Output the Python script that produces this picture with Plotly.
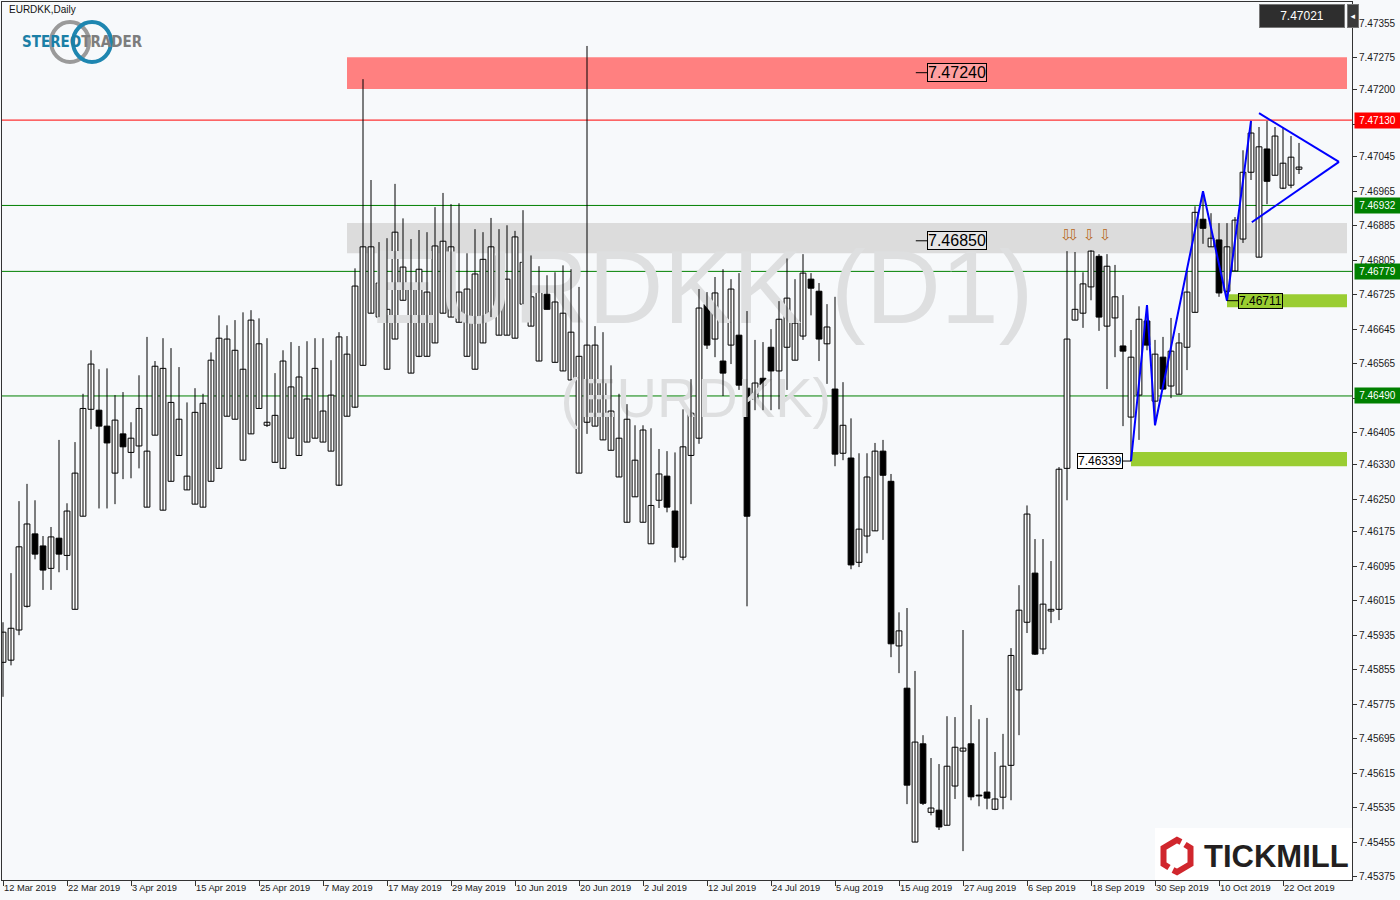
import plotly.graph_objects as go

# ---------------- DATA ----------------
tick_labels = ['12 Mar 2019', '22 Mar 2019', '3 Apr 2019', '15 Apr 2019', '25 Apr 2019',
               '7 May 2019', '17 May 2019', '29 May 2019', '10 Jun 2019', '20 Jun 2019',
               '2 Jul 2019', '12 Jul 2019', '24 Jul 2019', '5 Aug 2019', '15 Aug 2019',
               '27 Aug 2019', '6 Sep 2019', '18 Sep 2019', '30 Sep 2019', '10 Oct 2019',
               '22 Oct 2019']

y_ticks = [7.47355, 7.47275, 7.47200, 7.47120, 7.47045, 7.46965, 7.46885, 7.46805, 7.46725,
           7.46645, 7.46565, 7.46485, 7.46405, 7.46330, 7.46250, 7.46175, 7.46095, 7.46015,
           7.45935, 7.45855, 7.45775, 7.45695, 7.45615, 7.45535, 7.45455, 7.45375]

open_ = [7.45872, 7.45877, 7.45947, 7.46002, 7.46170, 7.46142, 7.46090, 7.46160, 7.46120, 7.45995,
         7.46211, 7.46459, 7.46457, 7.46420, 7.46311, 7.46402, 7.46359, 7.46374, 7.46232, 7.46399,
         7.46225, 7.46292, 7.46352, 7.46272, 7.46239, 7.46232, 7.46292, 7.46322, 7.46443, 7.46436,
         7.46341, 7.46402, 7.46461, 7.46422, 7.46336, 7.46322, 7.46392, 7.46352, 7.46383, 7.46392,
         7.46383, 7.46362, 7.46283, 7.46443, 7.46464, 7.46561, 7.46682, 7.46673, 7.46552, 7.46622,
         7.46712, 7.46543, 7.46582, 7.46582, 7.46613, 7.46682, 7.46673, 7.46661, 7.46582, 7.46552,
         7.46613, 7.46673, 7.46631, 7.46631, 7.46624, 7.46703, 7.46652, 7.46571, 7.46726, 7.46568,
         7.46548, 7.46527, 7.46311, 7.46429, 7.46420, 7.46388, 7.46364, 7.46302, 7.46197, 7.46256,
         7.46197, 7.46147, 7.46248, 7.46304, 7.46223, 7.46116, 7.46352, 7.46392, 7.46703, 7.46622,
         7.46571, 7.46608, 7.46631, 7.46508, 7.46483, 7.46531, 7.46603, 7.46548, 7.46603, 7.46573,
         7.46629, 7.46761, 7.46733, 7.46611, 7.46506, 7.46357, 7.46346, 7.46104, 7.46165, 7.46177,
         7.46362, 7.46292, 7.45910, 7.45812, 7.45455, 7.45683, 7.45524, 7.45529, 7.45494, 7.45585,
         7.45666, 7.45683, 7.45564, 7.45571, 7.45531, 7.45559, 7.45633, 7.45808, 7.45965, 7.46079,
         7.45903, 7.45991, 7.45995, 7.46322, 7.46666, 7.46682, 7.46743, 7.46814, 7.46652, 7.46671,
         7.46606, 7.46441, 7.46492, 7.46664, 7.46478, 7.46580, 7.46513, 7.46494, 7.46603, 7.46684,
         7.46900, 7.46836, 7.46852, 7.46733, 7.46780, 7.46854, 7.47009, 7.46812, 7.47063, 7.47002,
         7.46972, 7.46979, 7.47016]

high = [7.45965, 7.46079, 7.46246, 7.46286, 7.46248, 7.46165, 7.46186, 7.46388, 7.46241, 7.46383,
        7.46495, 7.46596, 7.46552, 7.46554, 7.46492, 7.46499, 7.46429, 7.46538, 7.46627, 7.46571,
        7.46624, 7.46601, 7.46557, 7.46475, 7.46508, 7.46495, 7.46591, 7.46677, 7.46654, 7.46666,
        7.46684, 7.46689, 7.46670, 7.46624, 7.46543, 7.46596, 7.46615, 7.46606, 7.46617, 7.46624,
        7.46624, 7.46573, 7.46638, 7.46629, 7.46786, 7.47225, 7.46991, 7.46847, 7.46856, 7.46982,
        7.46902, 7.46854, 7.46875, 7.46870, 7.46928, 7.46961, 7.46935, 7.46937, 7.46821, 7.46877,
        7.46870, 7.46903, 7.46877, 7.46886, 7.46873, 7.46921, 7.46816, 7.46791, 7.46770, 7.46777,
        7.46793, 7.46784, 7.46743, 7.47302, 7.46652, 7.46638, 7.46561, 7.46495, 7.46471, 7.46422,
        7.46422, 7.46415, 7.46367, 7.46362, 7.46359, 7.46459, 7.46529, 7.46738, 7.46731, 7.46766,
        7.46784, 7.46761, 7.46775, 7.46687, 7.46620, 7.46615, 7.46645, 7.46710, 7.46809, 7.46761,
        7.46819, 7.46775, 7.46752, 7.46703, 7.46720, 7.46522, 7.46438, 7.46357, 7.46357, 7.46381,
        7.46388, 7.46309, 7.45988, 7.45998, 7.45852, 7.45703, 7.45650, 7.45636, 7.45747, 7.45745,
        7.45947, 7.45773, 7.45740, 7.45743, 7.45664, 7.45706, 7.45905, 7.46051, 7.46236, 7.46158,
        7.46158, 7.46107, 7.46325, 7.46826, 7.46824, 7.46777, 7.46828, 7.46819, 7.46819, 7.46794,
        7.46724, 7.46643, 7.46698, 7.46701, 7.46620, 7.46627, 7.46671, 7.46636, 7.46780, 7.46930,
        7.46965, 7.46914, 7.46891, 7.46891, 7.46905, 7.47060, 7.47128, 7.47114, 7.47128, 7.47114,
        7.47114, 7.47093, 7.47077]

low = [7.45792, 7.45865, 7.45935, 7.45999, 7.46111, 7.46040, 7.46040, 7.46081, 7.46086, 7.45995,
       7.46211, 7.46413, 7.46229, 7.46229, 7.46239, 7.46297, 7.46299, 7.46322, 7.46232, 7.46399,
       7.46225, 7.46292, 7.46352, 7.46272, 7.46239, 7.46232, 7.46292, 7.46322, 7.46443, 7.46436,
       7.46341, 7.46402, 7.46461, 7.46418, 7.46336, 7.46322, 7.46392, 7.46352, 7.46383, 7.46392,
       7.46383, 7.46362, 7.46281, 7.46443, 7.46462, 7.46561, 7.46682, 7.46673, 7.46552, 7.46622,
       7.46712, 7.46543, 7.46580, 7.46582, 7.46613, 7.46682, 7.46673, 7.46661, 7.46582, 7.46552,
       7.46613, 7.46673, 7.46631, 7.46631, 7.46624, 7.46703, 7.46652, 7.46571, 7.46691, 7.46568,
       7.46548, 7.46527, 7.46311, 7.46402, 7.46420, 7.46388, 7.46364, 7.46302, 7.46197, 7.46256,
       7.46197, 7.46147, 7.46230, 7.46220, 7.46104, 7.46109, 7.46239, 7.46379, 7.46599, 7.46580,
       7.46490, 7.46564, 7.46504, 7.46002, 7.46457, 7.46457, 7.46457, 7.46459, 7.46504, 7.46573,
       7.46620, 7.46677, 7.46571, 7.46518, 7.46327, 7.46341, 7.46088, 7.46093, 7.46125, 7.46177,
       7.46156, 7.45884, 7.45847, 7.45543, 7.45455, 7.45541, 7.45517, 7.45483, 7.45494, 7.45555,
       7.45434, 7.45552, 7.45538, 7.45531, 7.45529, 7.45531, 7.45552, 7.45703, 7.45940, 7.45889,
       7.45891, 7.45963, 7.45970, 7.46248, 7.46666, 7.46648, 7.46712, 7.46641, 7.46506, 7.46580,
       7.46420, 7.46339, 7.46388, 7.46596, 7.46422, 7.46504, 7.46485, 7.46494, 7.46550, 7.46684,
       7.46843, 7.46836, 7.46720, 7.46711, 7.46780, 7.46845, 7.46991, 7.46812, 7.46935, 7.47002,
       7.46970, 7.46972, 7.47005]

close = [7.45942, 7.45951, 7.46140, 7.46193, 7.46123, 7.46086, 7.46163, 7.46123, 7.46223, 7.46311,
         7.46461, 7.46564, 7.46420, 7.46381, 7.46434, 7.46372, 7.46392, 7.46461, 7.46362, 7.46559,
         7.46554, 7.46475, 7.46436, 7.46304, 7.46452, 7.46473, 7.46573, 7.46624, 7.46622, 7.46596,
         7.46552, 7.46666, 7.46611, 7.46429, 7.46445, 7.46571, 7.46511, 7.46534, 7.46483, 7.46554,
         7.46455, 7.46492, 7.46627, 7.46587, 7.46745, 7.46836, 7.46836, 7.46752, 7.46691, 7.46870,
         7.46789, 7.46745, 7.46784, 7.46731, 7.46838, 7.46849, 7.46836, 7.46731, 7.46738, 7.46773,
         7.46807, 7.46836, 7.46816, 7.46761, 7.46859, 7.46800, 7.46720, 7.46733, 7.46691, 7.46708,
         7.46682, 7.46638, 7.46582, 7.46608, 7.46608, 7.46522, 7.46455, 7.46392, 7.46436, 7.46341,
         7.46411, 7.46236, 7.46309, 7.46232, 7.46139, 7.46372, 7.46450, 7.46694, 7.46608, 7.46729,
         7.46543, 7.46738, 7.46515, 7.46211, 7.46520, 7.46515, 7.46548, 7.46668, 7.46717, 7.46659,
         7.46775, 7.46740, 7.46622, 7.46650, 7.46355, 7.46422, 7.46098, 7.46181, 7.46302, 7.46362,
         7.46306, 7.45915, 7.45945, 7.45587, 7.45687, 7.45545, 7.45534, 7.45490, 7.45631, 7.45675,
         7.45673, 7.45560, 7.45562, 7.45557, 7.45555, 7.45631, 7.45888, 7.45993, 7.46216, 7.45891,
         7.46007, 7.45995, 7.46320, 7.46622, 7.46691, 7.46750, 7.46826, 7.46673, 7.46791, 7.46720,
         7.46594, 7.46580, 7.46668, 7.46608, 7.46587, 7.46506, 7.46594, 7.46613, 7.46731, 7.46916,
         7.46879, 7.46856, 7.46729, 7.46836, 7.46898, 7.47009, 7.47100, 7.47068, 7.46988, 7.47093,
         7.47030, 7.47044, 7.47021]

last_price = 7.47021

# horizontal levels
red_level = 7.47130
green_levels = [7.46932, 7.46779, 7.46490]

# zones (bar index start, bar index end, price low, price high)
pink_zone = (43, 168, 7.47202, 7.47276)
gray_zone = (43, 168, 7.46821, 7.46891)
green_zone_low = (141, 168, 7.46327, 7.46360)
green_zone_high = (153, 168, 7.46696, 7.46726)

zone_labels = [('7.47240', 7.47240), ('7.46850', 7.46850)]
zone_label_bar = 115.5

# wave (bar index, price)
wave_x = [141, 143, 144, 150, 153, 156]
wave_y = [7.46339, 7.46701, 7.46422, 7.46965, 7.46711, 7.47128]
tri_upper_x = [157, 167]
tri_upper_y = [7.47146, 7.47033]
tri_lower_x = [156.1, 167]
tri_lower_y = [7.46893, 7.47033]

arrow_bars = [132.9, 133.8, 135.8, 137.8]
arrow_price = 7.46863

# ---------------- FIGURE ----------------
FONT = 'Liberation Sans, Arial, sans-serif'
BG = '#F7F9FB'
n = len(open_)
xs = list(range(n))

fig = go.Figure()

# watermark (drawn first, under candles)
fig.add_trace(go.Scatter(x=[87.25], y=[7.46719], mode='text', text=['EURDKK (D1)'],
                         textfont=dict(family=FONT, size=104, color='#DEDFE0'),
                         hoverinfo='skip', showlegend=False))
fig.add_trace(go.Scatter(x=[86.6], y=[7.46473], mode='text', text=['(EURDKK)'],
                         textfont=dict(family=FONT, size=56, color='#DEDFE0'),
                         hoverinfo='skip', showlegend=False))

# wicks
wx, wy = [], []
for i in xs:
    wx += [i, i, None]
    wy += [high[i], low[i], None]
fig.add_trace(go.Scatter(x=wx, y=wy, mode='lines', line=dict(color='black', width=1),
                         hoverinfo='skip', showlegend=False))

# bodies
base = [min(o, c) for o, c in zip(open_, close)]
hgt = [max(abs(c - o), 0.000004) for o, c in zip(open_, close)]
cols = ['white' if c >= o else 'black' for o, c in zip(open_, close)]
fig.add_trace(go.Bar(x=xs, y=hgt, base=base, width=0.72,
                     marker=dict(color=cols, line=dict(color='black', width=1)),
                     hoverinfo='skip', showlegend=False))

# blue wave & triangle
fig.add_trace(go.Scatter(x=wave_x, y=wave_y, mode='lines', line=dict(color='#0000FF', width=2),
                         hoverinfo='skip', showlegend=False))
fig.add_trace(go.Scatter(x=tri_upper_x, y=tri_upper_y, mode='lines', line=dict(color='#0000FF', width=2),
                         hoverinfo='skip', showlegend=False))
fig.add_trace(go.Scatter(x=tri_lower_x, y=tri_lower_y, mode='lines', line=dict(color='#0000FF', width=2),
                         hoverinfo='skip', showlegend=False))

shapes = []


def zone(z, color):
    shapes.append(dict(type='rect', xref='x', yref='y', x0=z[0], x1=z[1], y0=z[2], y1=z[3],
                       fillcolor=color, line=dict(width=0), layer='below'))


zone(pink_zone, '#FF8080')
zone(gray_zone, '#DCDCDC')
zone(green_zone_low, '#9ACD32')
zone(green_zone_high, '#9ACD32')

shapes.append(dict(type='line', xref='paper', yref='y', x0=0, x1=1, y0=red_level, y1=red_level,
                   line=dict(color='#FF0000', width=1), layer='below'))
for g in green_levels:
    shapes.append(dict(type='line', xref='paper', yref='y', x0=0, x1=1, y0=g, y1=g,
                       line=dict(color='#008000', width=1), layer='below'))

# small ticks left of zone labels
for _, p in zone_labels:
    shapes.append(dict(type='line', xref='x', yref='y', x0=zone_label_bar - 1.4, x1=zone_label_bar,
                       y0=p, y1=p, line=dict(color='black', width=1)))
# connectors
shapes.append(dict(type='line', xref='x', yref='y', x0=140.0, x1=141.0, y0=wave_y[0], y1=wave_y[0],
                   line=dict(color='black', width=1)))
shapes.append(dict(type='line', xref='x', yref='y', x0=153.0, x1=154.4, y0=wave_y[4], y1=wave_y[4],
                   line=dict(color='black', width=1)))


def px(xp):
    return (xp - 2) / 1350.0


def py(yp):
    return (880 - yp) / 878.0


# StereoTrader rings
shapes.append(dict(type='circle', xref='paper', yref='paper', xsizemode='pixel', ysizemode='pixel',
                   xanchor=px(70), yanchor=py(42), x0=-19, x1=19, y0=-20, y1=20,
                   line=dict(color='#9A9A9A', width=4)))
shapes.append(dict(type='circle', xref='paper', yref='paper', xsizemode='pixel', ysizemode='pixel',
                   xanchor=px(92), yanchor=py(42), x0=-19, x1=19, y0=-20, y1=20,
                   line=dict(color='#1E86B0', width=4)))

# Tickmill box + logo
shapes.append(dict(type='rect', xref='paper', yref='paper', x0=px(1155), x1=1, y0=0, y1=py(828),
                   fillcolor='white', line=dict(width=0), layer='above'))
shapes.append(dict(type='path', xref='paper', yref='paper', xsizemode='pixel', ysizemode='pixel',
                   xanchor=px(1177), yanchor=py(856),
                   path='M 4,14 L 0,16 L -13.5,8 L -13.5,-8 L -8,-11.5',
                   line=dict(color='#D0262D', width=6)))
shapes.append(dict(type='path', xref='paper', yref='paper', xsizemode='pixel', ysizemode='pixel',
                   xanchor=px(1177), yanchor=py(856),
                   path='M -4,-14 L 0,-16 L 13.5,-8 L 13.5,8 L 8,11.5',
                   line=dict(color='#D0262D', width=6)))

ann = []
# x tick labels (left aligned at tick)
for k, lab in enumerate(tick_labels):
    ann.append(dict(xref='x', yref='paper', x=k * 8, y=0, yanchor='top', xanchor='left',
                    xshift=-1, yshift=-1, text=lab, showarrow=False,
                    font=dict(family=FONT, size=9.3, color='#1a1a1a')))

# right axis price labels
ann.append(dict(xref='paper', yref='y', x=1, y=red_level, xanchor='left', xshift=2,
                text='7.47130', showarrow=False, bgcolor='#FF0000', width=43, height=13,
                font=dict(family=FONT, size=10, color='white')))
for g in green_levels:
    ann.append(dict(xref='paper', yref='y', x=1, y=g, xanchor='left', xshift=2,
                    text='%.5f' % g, showarrow=False, bgcolor='#008000', width=43, height=13,
                    font=dict(family=FONT, size=10, color='white')))

# zone labels
for t, p in zone_labels:
    ann.append(dict(xref='x', yref='y', x=zone_label_bar, y=p, xanchor='left', text=t,
                    showarrow=False, bordercolor='black', borderwidth=1, borderpad=0,
                    bgcolor='rgba(255,255,255,0.25)',
                    font=dict(family=FONT, size=16, color='black')))
ann.append(dict(xref='x', yref='y', x=140.0, y=wave_y[0], xanchor='right', text='7.46339',
                showarrow=False, bordercolor='black', borderwidth=1, borderpad=0, bgcolor='white',
                font=dict(family=FONT, size=12, color='black')))
ann.append(dict(xref='x', yref='y', x=154.4, y=wave_y[4], xanchor='left', text='7.46711',
                showarrow=False, bordercolor='black', borderwidth=1, borderpad=0, bgcolor='#9ACD32',
                font=dict(family=FONT, size=12, color='black')))

# down arrows
for b in arrow_bars:
    ann.append(dict(xref='x', yref='y', x=b, y=arrow_price, text='⇩', showarrow=False,
                    font=dict(family='DejaVu Sans', size=15, color='#B86A22')))

# top-left texts
ann.append(dict(xref='paper', yref='paper', x=px(7), y=py(10), xanchor='left', yanchor='middle',
                text='EURDKK,Daily', showarrow=False, font=dict(family=FONT, size=10, color='#111')))
ann.append(dict(xref='paper', yref='paper', x=px(82), y=py(42), xanchor='center', yanchor='middle',
                text="<b><span style='color:#1B7FA6'>STEREO</span><span style='color:#7D7D7D'>TRADER</span></b>",
                showarrow=False,
                font=dict(family='DejaVu Sans Condensed, Liberation Sans Narrow, sans-serif', size=15)))

# top-right last price box
ann.append(dict(xref='paper', yref='paper', x=px(1345), y=py(15.5), xanchor='right', yanchor='middle',
                text='%.5f' % last_price, showarrow=False, bgcolor='#2E2E2E', bordercolor='#777',
                borderwidth=1, width=82, height=20, font=dict(family=FONT, size=12, color='white')))
ann.append(dict(xref='paper', yref='paper', x=px(1347), y=py(15.5), xanchor='left', yanchor='middle',
                text='◂', showarrow=False, bgcolor='#3A3A3A', bordercolor='#777', borderwidth=1,
                width=8, height=20, font=dict(family='DejaVu Sans', size=9, color='white')))

# Tickmill text
ann.append(dict(xref='paper', yref='paper', x=px(1202), y=py(856), xanchor='left', yanchor='middle',
                text='<b>TICKMILL</b>', showarrow=False,
                font=dict(family=FONT, size=31, color='#231F20')))

fig.update_layout(
    width=1400, height=900,
    margin=dict(l=2, r=48, t=2, b=20),
    paper_bgcolor=BG, plot_bgcolor=BG,
    showlegend=False, barmode='overlay',
    shapes=shapes, annotations=ann,
    font=dict(family=FONT, size=10, color='#1a1a1a'),
    xaxis=dict(range=[-0.125, 168.625], showgrid=False, zeroline=False, showline=True,
               linecolor='#333', linewidth=1, mirror=True, ticks='outside', ticklen=5,
               tickcolor='#333', tickvals=[k * 8 for k in range(len(tick_labels))],
               showticklabels=False, fixedrange=True),
    yaxis=dict(range=[7.45367, 7.47404], side='right', showgrid=False, zeroline=False,
               showline=True, linecolor='#333', linewidth=1, mirror=True, ticks='outside',
               ticklen=4, tickcolor='#333', tickvals=y_ticks,
               ticktext=['%.5f' % v for v in y_ticks],
               tickfont=dict(family=FONT, size=10, color='#1a1a1a'), fixedrange=True),
)

fig.write_html("out.html", config={'displayModeBar': False},
               post_script="document.body.style.margin='0';")
